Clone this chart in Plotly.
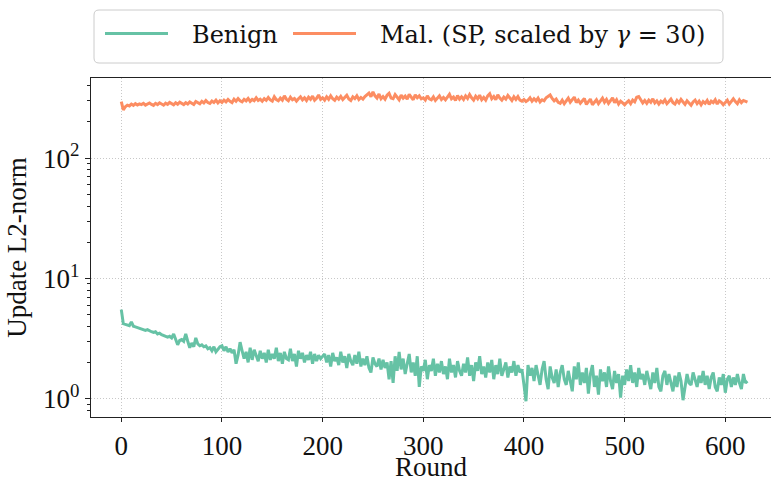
import plotly.graph_objects as go

# Rounds sampled every 2 rounds (0..622)
rounds = list(range(0, 624, 2))

benign = [
    5.5, 4.2, 4.15, 4.1, 4.05, 4.35, 4.0, 3.95, 3.9, 3.85,
    3.85, 3.8, 3.7, 3.75, 3.65, 3.6, 3.55, 3.6, 3.45, 3.5,
    3.4, 3.35, 3.3, 3.25, 3.3, 3.2, 3.45, 3.1, 2.8, 3.05,
    3.1, 3.0, 3.45, 3.0, 2.65, 2.9, 2.7, 3.2, 2.85, 2.75,
    2.8, 2.7, 2.75, 2.6, 2.65, 2.5, 2.7, 2.45, 2.6, 2.7,
    2.75, 2.5, 2.7, 2.45, 2.6, 2.4, 2.55, 1.95, 2.3, 2.95,
    2.5, 2.15, 2.45, 2.0, 2.65, 2.1, 2.55, 2.25, 2.05, 2.5,
    2.15, 2.4, 2.0, 2.55, 2.1, 2.35, 2.15, 2.65, 2.05, 2.4,
    1.95, 2.45, 2.15, 2.1, 2.6, 2.05, 2.35, 1.85, 2.5, 2.15,
    2.4, 2.0, 2.3, 2.1, 2.45, 1.95, 2.35, 2.05, 2.3, 2.15,
    2.25, 2.35, 2.0, 2.3, 1.85, 2.4, 2.05, 2.2, 1.9, 2.45,
    2.0, 2.25, 1.8, 2.35, 2.05, 1.9, 2.3, 1.95, 2.45, 1.85,
    2.15, 1.9, 2.25, 1.8, 1.65, 2.2, 1.95, 1.85, 2.15, 1.75,
    2.1, 1.8, 2.0, 1.45, 2.05, 1.35, 2.25, 1.7, 2.45, 1.75,
    2.15, 1.6, 1.95, 2.35, 1.65, 2.0, 1.55, 2.25, 1.25, 1.85,
    1.7, 2.1, 1.45, 1.9, 1.7, 2.15, 1.55, 1.95, 1.65, 2.05,
    1.6, 1.85, 1.45, 2.15, 1.65, 1.9, 1.5, 2.05, 1.7, 1.55,
    1.95, 1.65, 2.2, 1.55, 1.9, 1.4, 2.0, 1.7, 2.25, 1.6,
    1.85, 1.5, 2.0, 1.65, 2.1, 1.45, 1.9, 1.6, 2.15, 1.55,
    1.75, 2.0, 1.5, 1.85, 1.65, 2.05, 1.55, 1.9, 1.65, 1.75,
    1.3, 0.95, 1.9, 1.55, 1.8, 1.4, 1.9, 1.55, 1.3, 1.75,
    2.05, 1.45, 1.2, 1.85, 1.5, 1.35, 1.75, 1.25, 1.65, 1.9,
    1.45, 1.3, 1.7, 1.4, 1.15, 1.85, 1.45, 2.0, 1.3, 1.65,
    1.35, 1.8, 1.1, 1.6, 1.9, 1.25, 1.55, 1.08, 1.75, 1.4,
    1.65, 1.25, 1.85, 1.4, 1.2, 1.7, 1.35, 1.6, 1.02, 1.55,
    1.3, 1.75, 1.4, 1.9, 1.35, 1.65, 1.25, 1.8, 1.45, 1.6,
    1.3, 1.7, 1.4, 1.2, 1.65, 1.35, 1.8, 1.25, 1.15, 1.55,
    1.7, 1.3, 1.6, 1.35, 1.15, 1.55, 1.25, 1.65, 1.4, 0.97,
    1.25, 1.6, 1.35, 1.3, 1.65, 1.4, 1.25, 1.55, 1.35, 1.7,
    1.3, 1.55, 1.2, 1.5, 1.65, 1.25, 1.15, 1.5, 1.3, 1.6,
    1.12, 1.45, 1.55, 1.25, 1.5, 1.3, 1.6, 1.35, 1.2, 1.6,
    1.35, 1.4,
]

malicious = [
    296, 252, 268, 276, 272, 282, 275, 284, 277, 283,
    279, 286, 276, 284, 288, 280, 275, 286, 279, 289,
    283, 276, 287, 280, 291, 284, 278, 289, 281, 292,
    286, 279, 290, 282, 294, 286, 280, 296, 287, 283,
    297, 288, 302, 290, 285, 299, 291, 304, 288, 300,
    291, 304, 294, 308, 297, 290, 310, 298, 313, 300,
    294, 309, 300, 314, 297, 308, 301, 318, 302, 310,
    298, 313, 303, 320, 305, 298, 324, 307, 300, 316,
    304, 330, 310, 301, 322, 306, 314, 298, 312, 324,
    306, 318, 302, 322, 309, 328, 303, 315, 336, 308,
    318, 304, 324, 309, 330, 312, 303, 322, 310, 327,
    307, 318, 334, 311, 302, 324, 313, 330, 308, 320,
    310, 326, 340, 348, 325, 356, 330, 316, 342, 312,
    326, 310, 334, 346, 316, 312, 338, 322, 306, 334,
    316, 328, 310, 340, 322, 306, 336, 318, 330, 312,
    318, 304, 330, 312, 306, 324, 302, 316, 330, 308,
    320, 306, 326, 340, 312, 322, 302, 332, 310, 324,
    308, 330, 314, 338, 318, 304, 328, 312, 334, 306,
    320, 304, 330, 344, 312, 326, 306, 336, 316, 304,
    322, 310, 332, 314, 302, 324, 308, 326, 304, 298,
    308, 296, 304, 318, 298, 312, 300, 316, 294, 306,
    300, 318, 328, 336, 314, 300, 310, 292, 286, 304,
    284, 300, 316, 292, 306, 322, 290, 304, 286, 300,
    314, 280, 296, 310, 278, 294, 306, 284, 300, 316,
    292, 308, 286, 300, 318, 290, 306, 282, 298, 288,
    278, 290, 300, 284, 304, 294, 322, 326, 302, 288,
    302, 286, 304, 292, 312, 288, 300, 282, 298, 290,
    306, 284, 296, 310, 290, 282, 302, 288, 308, 294,
    280, 300, 288, 276, 294, 304, 284, 298, 278, 296,
    286, 302, 280, 298, 290, 306, 282, 300, 292, 278,
    290, 304, 282, 298, 312, 296, 284, 306, 290, 302,
    296, 292,
]

series_names = ["Benign", "Mal. (SP, scaled by <i>γ</i> = 30)"]
x_ticks = [0, 100, 200, 300, 400, 500, 600]
y_ticks = [1, 10, 100]
y_ticktext = ["10<sup>0</sup>", "10<sup>1</sup>", "10<sup>2</sup>"]
y_minor = [0.7, 0.8, 0.9, 2, 3, 4, 5, 6, 7, 8, 9,
           20, 30, 40, 50, 60, 70, 80, 90, 200, 300, 400]

FONT = "Liberation Serif"
LEGEND_FONT = "DejaVu Serif"
TEXT = "#111111"
GREEN = "#66c2a5"
ORANGE = "#fc8d62"
W, H = 771, 482
ML, MR, MT, MB = 91, 0, 78, 65
PW, PH = W - ML - MR, H - MT - MB


def px_x(px):
    return (px - ML) / PW


def px_y(py):
    return (H - MB - py) / PH


fig = go.Figure()
fig.add_trace(go.Scatter(x=rounds, y=benign, mode="lines", name=series_names[0],
                         line=dict(color=GREEN, width=3), showlegend=False))
fig.add_trace(go.Scatter(x=rounds, y=malicious, mode="lines", name=series_names[1],
                         line=dict(color=ORANGE, width=3), showlegend=False))

# Legend drawn as a framed box (matplotlib-style, rounded corners)
x0, x1, y0, y1, r = px_x(94), px_x(723), px_y(63), px_y(10), 5
rx, ry = r / PW, r / PH
path = (f"M {x0+rx},{y0} L {x1-rx},{y0} Q {x1},{y0} {x1},{y0+ry} "
        f"L {x1},{y1-ry} Q {x1},{y1} {x1-rx},{y1} L {x0+rx},{y1} "
        f"Q {x0},{y1} {x0},{y1-ry} L {x0},{y0+ry} Q {x0},{y0} {x0+rx},{y0} Z")
shapes = [dict(type="path", xref="paper", yref="paper", path=path, layer="below",
               line=dict(color="#cccccc", width=1), fillcolor="white")]
annotations = []
for (lx0, lx1, tx), color, name in zip([(105, 168, 190), (293, 356, 378)],
                                       [GREEN, ORANGE], series_names):
    shapes.append(dict(type="line", xref="paper", yref="paper",
                       x0=px_x(lx0), x1=px_x(lx1), y0=px_y(33.5), y1=px_y(33.5),
                       line=dict(color=color, width=3)))
    annotations.append(dict(xref="paper", yref="paper", x=px_x(tx), y=px_y(35),
                            xanchor="left", yanchor="middle", showarrow=False,
                            text=name,
                            font=dict(family=LEGEND_FONT, size=24, color=TEXT)))

fig.update_layout(
    width=W, height=H,
    margin=dict(l=ML, r=MR, t=MT, b=MB),
    paper_bgcolor="white", plot_bgcolor="white",
    font=dict(family=FONT, size=27),
    showlegend=False,
    shapes=shapes,
    annotations=annotations,
)

grid_dash = "1px,2px"

fig.update_xaxes(
    range=[-30.1, 645.4], automargin=False,
    tickmode="array", tickvals=x_ticks,
    ticks="outside", ticklen=4, tickwidth=1, tickcolor="#222222",
    showline=True, linecolor="#222222", linewidth=1.2, mirror=True,
    showgrid=True, gridcolor="#c8c8c8", griddash=grid_dash, gridwidth=1,
    zeroline=False,
    title=dict(text="Round", standoff=9, font=dict(family=FONT, size=27, color=TEXT)),
    tickfont=dict(family=FONT, size=27, color=TEXT),
)

fig.update_yaxes(
    type="log", range=[-0.153, 2.667], automargin=False,
    tickmode="array", tickvals=y_ticks, ticktext=y_ticktext,
    ticks="outside", ticklen=5, tickwidth=1, tickcolor="#222222",
    minor=dict(tickmode="array", tickvals=y_minor, ticks="outside",
               ticklen=3, tickwidth=1, tickcolor="#222222", showgrid=False),
    showline=True, linecolor="#222222", linewidth=1.2, mirror=False,
    showgrid=True, gridcolor="#c8c8c8", griddash=grid_dash, gridwidth=1,
    zeroline=False,
    title=dict(text="Update L2-norm", standoff=8, font=dict(family=FONT, size=27, color=TEXT)),
    tickfont=dict(family=FONT, size=27, color=TEXT),
)

fig.write_html("out.html")
